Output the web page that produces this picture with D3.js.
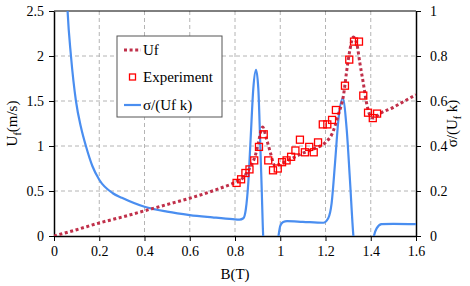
<!DOCTYPE html>
<html>
<head>
<meta charset="utf-8">
<script src="https://cdn.jsdelivr.net/npm/d3@7"></script>
<style>
  body { margin: 0; background: #fff; }
  svg text { font-family: "Liberation Serif", "DejaVu Serif", "Times New Roman", serif; fill: #000; }
</style>
</head>
<body>
<svg id="chart" width="470" height="286"></svg>
<script>
// Uf model curve (B in T, Uf in m/s)
var ufB = [0, 0.1, 0.2, 0.3, 0.4, 0.5, 0.6, 0.7, 0.75, 0.8, 0.84, 0.866, 0.888, 0.903, 0.915, 0.922,
           0.94, 0.955, 0.968, 0.976, 0.99, 1.05, 1.1, 1.15, 1.2, 1.23, 1.257, 1.28, 1.294, 1.308,
           1.323, 1.338, 1.352, 1.367, 1.382, 1.397, 1.411, 1.44, 1.5, 1.55, 1.6];
var ufV = [0, 0.07, 0.145, 0.21, 0.28, 0.35, 0.42, 0.5, 0.545, 0.595, 0.66, 0.76, 0.88, 1.03, 1.17, 1.21,
           1.07, 0.94, 0.82, 0.78, 0.79, 0.86, 0.92, 0.97, 1.04, 1.14, 1.35, 1.57, 1.84, 2.07,
           2.21, 2.14, 1.92, 1.70, 1.47, 1.34, 1.31, 1.36, 1.43, 1.50, 1.57];

// experiment points
var expB = [0.807, 0.827, 0.846, 0.864, 0.885, 0.906, 0.927, 0.947, 0.968, 0.989, 1.008, 1.028, 1.048,
            1.067, 1.087, 1.109, 1.128, 1.148, 1.167, 1.188, 1.208, 1.229, 1.246, 1.286, 1.305, 1.326,
            1.348, 1.367, 1.388, 1.409, 1.428];
var expV = [0.59, 0.63, 0.70, 0.74, 0.84, 0.99, 1.13, 0.84, 0.73, 0.75, 0.82, 0.84, 0.88,
            0.95, 1.07, 0.93, 0.99, 0.93, 1.04, 1.24, 1.24, 1.29, 1.40, 1.67, 1.96, 2.16,
            2.16, 1.56, 1.37, 1.31, 1.36];

// sigma/(Uf k), right axis
var sigB = [0.05, 0.06, 0.075, 0.097, 0.12, 0.141, 0.17, 0.2, 0.26, 0.3, 0.4, 0.5, 0.6, 0.7, 0.79, 0.82,
            0.837, 0.848, 0.859, 0.869, 0.881, 0.893, 0.903, 0.911, 0.918, 0.925, 0.935, 0.98, 0.991,
            1.0, 1.013, 1.03, 1.1, 1.19, 1.212, 1.227, 1.242, 1.257, 1.276, 1.294, 1.308, 1.323, 1.335,
            1.40, 1.414, 1.426, 1.448, 1.5, 1.6];
var sigV = [1.25, 1.0, 0.8, 0.6, 0.48, 0.40, 0.31, 0.25, 0.19, 0.17, 0.13, 0.108, 0.093, 0.083, 0.075, 0.073,
            0.079, 0.12, 0.24, 0.43, 0.656, 0.738, 0.656, 0.43, 0.21, -0.01, -0.1, -0.1, -0.01,
            0.045, 0.062, 0.066, 0.063, 0.059, 0.079, 0.145, 0.323, 0.516, 0.612, 0.47, 0.25, 0.004, -0.1,
            -0.1, 0.0, 0.034, 0.053, 0.054, 0.053];

var xTicks = [0, 0.2, 0.4, 0.6, 0.8, 1, 1.2, 1.4, 1.6];
var yTicks = [0, 0.5, 1, 1.5, 2, 2.5];
var y2Ticks = [0, 0.2, 0.4, 0.6, 0.8, 1];

var serif = "'Liberation Serif', 'DejaVu Serif', 'Times New Roman', serif";

var margin = {left: 54, right: 54, top: 11, bottom: 50};
var width = 470 - margin.left - margin.right,
    height = 286 - margin.top - margin.bottom;

var svg = d3.select("#chart").style("font-family", serif);
var g = svg.append("g").attr("transform", "translate(" + margin.left + "," + margin.top + ")");

var x = d3.scaleLinear().domain([0, 1.6]).range([0, width]);
var y = d3.scaleLinear().domain([0, 2.5]).range([height, 0]);
var y2 = d3.scaleLinear().domain([0, 1]).range([height, 0]);

svg.append("defs").append("clipPath").attr("id", "plotclip")
  .append("rect").attr("width", width).attr("height", height);

// grid
g.append("g").selectAll("line").data(xTicks.slice(1, -1)).enter().append("line")
  .attr("x1", function(d) { return x(d); }).attr("x2", function(d) { return x(d); })
  .attr("y1", 0).attr("y2", height)
  .attr("stroke", "#b4b4b4").attr("stroke-dasharray", "4,3").attr("stroke-width", 1);
g.append("g").selectAll("line").data(yTicks.slice(1, -1)).enter().append("line")
  .attr("y1", function(d) { return y(d); }).attr("y2", function(d) { return y(d); })
  .attr("x1", 0).attr("x2", width)
  .attr("stroke", "#b4b4b4").attr("stroke-dasharray", "4,3").attr("stroke-width", 1);

// top border
g.append("line").attr("x1", 0).attr("x2", width).attr("y1", 0).attr("y2", 0)
  .attr("stroke", "#000").attr("stroke-width", 1);

// axes
function styleAxis(sel) {
  sel.attr("font-family", null).attr("font-size", null);
  sel.select(".domain").attr("stroke", "#000").attr("stroke-width", 1.5);
  sel.selectAll(".tick line").attr("stroke", "#000");
  sel.selectAll(".tick text").style("font-size", "14px").style("font-family", serif);
}
var xAxis = g.append("g").attr("transform", "translate(0," + height + ")")
  .call(d3.axisBottom(x).tickValues(xTicks).tickSize(5).tickSizeOuter(0).tickFormat(d3.format("")).tickPadding(5));
styleAxis(xAxis);
var yAxis = g.append("g")
  .call(d3.axisLeft(y).tickValues(yTicks).tickSize(5).tickSizeOuter(0).tickFormat(d3.format("")).tickPadding(5));
styleAxis(yAxis);
var y2Axis = g.append("g").attr("transform", "translate(" + width + ",0)")
  .call(d3.axisRight(y2).tickValues(y2Ticks).tickSize(5).tickSizeOuter(0).tickFormat(d3.format("")).tickPadding(9));
styleAxis(y2Axis);

var plot = g.append("g").attr("clip-path", "url(#plotclip)");

// sigma line
var sigLine = d3.line().curve(d3.curveMonotoneX)
  .x(function(d) { return x(d[0]); }).y(function(d) { return y2(d[1]); });
plot.append("path").datum(d3.zip(sigB, sigV)).attr("d", sigLine)
  .attr("fill", "none").attr("stroke", "#4a8ef0").attr("stroke-width", 2.2);

// Uf dotted line
var ufLine = d3.line().curve(d3.curveMonotoneX)
  .x(function(d) { return x(d[0]); }).y(function(d) { return y(d[1]); });
plot.append("path").datum(d3.zip(ufB, ufV)).attr("d", ufLine)
  .attr("fill", "none").attr("stroke", "#c0304a").attr("stroke-width", 3)
  .attr("stroke-dasharray", "3,2.6");

// experiment squares
plot.selectAll(".exp").data(d3.zip(expB, expV)).enter().append("rect")
  .attr("class", "exp")
  .attr("x", function(d) { return x(d[0]) - 3.5; })
  .attr("y", function(d) { return y(d[1]) - 3.5; })
  .attr("width", 7).attr("height", 7)
  .attr("fill", "none").attr("stroke", "#ff0000").attr("stroke-width", 1.3);

// axis titles
var yt = svg.append("text")
  .attr("transform", "translate(17," + (margin.top + height / 2) + ")rotate(-90)")
  .attr("text-anchor", "middle").style("font-size", "15px").style("font-family", serif);
yt.append("tspan").text("U");
yt.append("tspan").attr("dy", 4).style("font-size", "10px").text("f");
yt.append("tspan").attr("dy", -4).text("(m/s)");

svg.append("text").attr("x", margin.left + width / 2).attr("y", 279)
  .attr("text-anchor", "middle").style("font-size", "15px").style("font-family", serif).text("B(T)");

var y2t = svg.append("text")
  .attr("transform", "translate(457," + (margin.top + height / 2) + ")rotate(-90)")
  .attr("text-anchor", "middle").style("font-size", "15px").style("font-family", serif);
y2t.append("tspan").text("σ/(U");
y2t.append("tspan").attr("dy", 4).style("font-size", "10px").text("f");
y2t.append("tspan").attr("dy", -4).text(" k)");

// legend
var lg = svg.append("g").attr("transform", "translate(117,36)").style("font-family", serif);
lg.append("rect").attr("width", 105).attr("height", 81)
  .attr("fill", "#fff").attr("stroke", "#555").attr("stroke-width", 1);
lg.append("line").attr("x1", 7).attr("x2", 24).attr("y1", 14).attr("y2", 14)
  .attr("stroke", "#c0304a").attr("stroke-width", 3).attr("stroke-dasharray", "3,2.6");
lg.append("text").attr("x", 26).attr("y", 19).style("font-size", "15px").text("Uf");
lg.append("rect").attr("x", 12.5).attr("y", 38).attr("width", 6).attr("height", 6)
  .attr("fill", "none").attr("stroke", "#ff0000").attr("stroke-width", 1.3);
lg.append("text").attr("x", 26).attr("y", 46).style("font-size", "15px").text("Experiment");
lg.append("line").attr("x1", 7).attr("x2", 24).attr("y1", 69).attr("y2", 69)
  .attr("stroke", "#4a8ef0").attr("stroke-width", 2.2);
lg.append("text").attr("x", 26).attr("y", 74).style("font-size", "15px").text("σ/(Uf k)");
</script>
</body>
</html>
